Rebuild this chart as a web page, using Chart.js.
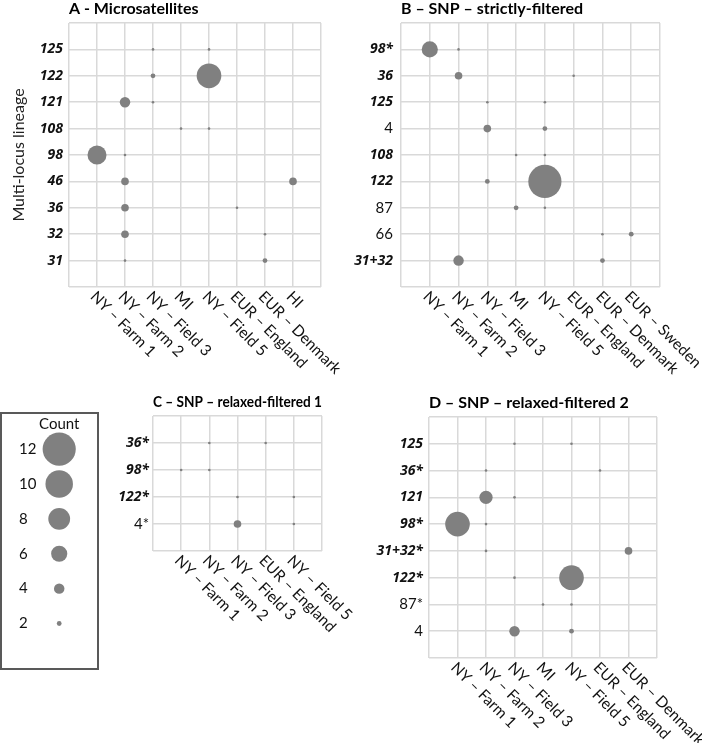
<!DOCTYPE html>
<html><head><meta charset="utf-8">
<script src="https://cdn.jsdelivr.net/npm/chart.js@4"></script>
<style>
html,body{margin:0;padding:0;background:#fff;}
body{width:702px;height:743px;position:relative;overflow:hidden;}
.p{position:absolute;}
.p canvas{display:block;}
#legendBox{position:absolute;left:0;top:412px;width:99px;height:258px;box-sizing:border-box;border:2px solid #595959;}
</style></head><body>
<div class="p" style="left:0;top:0;"><canvas id="cA" width="360" height="380" style="width:360px;height:380px"></canvas></div>
<div class="p" style="left:350px;top:0;"><canvas id="cB" width="352" height="380" style="width:352px;height:380px"></canvas></div>
<div class="p" style="left:100px;top:380px;"><canvas id="cC" width="270" height="363" style="width:270px;height:363px"></canvas></div>
<div class="p" style="left:350px;top:380px;"><canvas id="cD" width="352" height="363" style="width:352px;height:363px"></canvas></div>
<div id="legendBox"><canvas id="cL" width="95" height="254" style="width:95px;height:254px;display:block"></canvas></div>
<script>
// ---------- DATA ----------
// Panel A - Microsatellites
const A_sources = ['NY – Farm 1','NY – Farm 2','NY – Field 3','MI','NY – Field 5','EUR – England','EUR – Denmark','HI'];
const A_lineages = ['125','122','121','108','98','46','36','32','31'];
const A_highlight = ['125','122','121','108','98','46','36','32','31'];
const A_counts = [
  [0,0,1,0,1,0,0,0],
  [0,0,2,0,9,0,0,0],
  [0,4,1,0,0,0,0,0],
  [0,0,0,1,1,0,0,0],
  [7,1,0,0,0,0,0,0],
  [0,3,0,0,0,0,0,3],
  [0,3,0,0,0,1,0,0],
  [0,3,0,0,0,0,1,0],
  [0,1,0,0,0,0,2,0]
];
// Panel B - SNP strictly-filtered
const B_sources = ['NY – Farm 1','NY – Farm 2','NY – Field 3','MI','NY – Field 5','EUR – England','EUR – Denmark','EUR – Sweden'];
const B_lineages = ['98*','36','125','4','108','122','87','66','31+32'];
const B_highlight = ['98*','36','125','108','122','31+32'];
const B_counts = [
  [6,1,0,0,0,0,0,0],
  [0,3,0,0,0,1,0,0],
  [0,0,1,0,1,0,0,0],
  [0,0,3,0,2,0,0,0],
  [0,0,0,1,1,0,0,0],
  [0,0,2,0,12,0,0,0],
  [0,0,0,2,1,0,0,0],
  [0,0,0,0,0,0,1,2],
  [0,4,0,0,0,0,2,0]
];
// Panel C - SNP relaxed-filtered 1
const C_sources = ['NY – Farm 1','NY – Farm 2','NY – Field 3','EUR – England','NY – Field 5'];
const C_lineages = ['36*','98*','122*','4*'];
const C_highlight = ['36*','98*','122*'];
const C_counts = [
  [0,1,0,1,0],
  [1,1,0,0,0],
  [0,0,1,0,1],
  [0,0,3,0,1]
];
// Panel D - SNP relaxed-filtered 2
const D_sources = ['NY – Farm 1','NY – Farm 2','NY – Field 3','MI','NY – Field 5','EUR – England','EUR – Denmark'];
const D_lineages = ['125','36*','121','98*','31+32*','122*','87*','4'];
const D_highlight = ['125','36*','121','98*','31+32*','122*'];
const D_counts = [
  [0,0,1,0,1,0,0],
  [0,1,0,0,0,1,0],
  [0,5,1,0,0,0,0],
  [9,1,0,0,0,0,0],
  [0,1,0,0,0,0,3],
  [0,0,1,0,9,0,0],
  [0,0,0,1,1,0,0],
  [0,0,4,0,2,0,0]
];
// Legend
const legendCounts = [12,10,8,6,4,2];

// ---------- STYLE ----------
const FAMILY = 'Lato, "Open Sans", "DejaVu Sans", sans-serif';
const HL_FAMILY = '"Noto Sans", "Open Sans", sans-serif';
const TEXT = '#111111';
const GRID = '#d9d9d9';
const BUBBLE = '#808080';
const rad = c => Math.max(1.3, 1.42 * c - 0.45);

function rotLabels(labels, fontSize, dx, dy) {
  return {
    id: 'rotLabels',
    afterDraw(chart) {
      const xs = chart.scales.x, ctx = chart.ctx, base = chart.chartArea.bottom;
      ctx.save();
      ctx.font = fontSize + 'px ' + FAMILY;
      ctx.fillStyle = TEXT;
      ctx.textAlign = 'left';
      ctx.textBaseline = 'middle';
      labels.forEach((lab, i) => {
        const x = xs.getPixelForValue(i + 1);
        ctx.save();
        ctx.translate(x + dx, base + dy);
        ctx.rotate(Math.PI / 4);
        ctx.fillText(lab, 0, 0);
        ctx.restore();
      });
      ctx.restore();
    }
  };
}

function panel(id, sources, lineages, highlight, counts, titleText, lay) {
  const pts = [];
  counts.forEach((row, yi) => row.forEach((c, xi) => {
    if (c > 0) pts.push({x: xi + 1, y: yi + 1, r: rad(c)});
  }));
  const nX = sources.length, nY = lineages.length;
  return new Chart(document.getElementById(id), {
    type: 'bubble',
    data: {datasets: [{data: pts, backgroundColor: BUBBLE, borderWidth: 0, hoverBorderWidth: 0}]},
    options: {
      responsive: false, animation: false, events: [],
      layout: {padding: {left: 0, right: lay.padRight, top: 0, bottom: 0}},
      plugins: {
        legend: {display: false}, tooltip: {enabled: false},
        title: {display: true, text: titleText, align: 'start', fullSize: false, color: '#000',
          font: {family: FAMILY, size: 16, weight: 'bold', lineHeight: 1.1},
          padding: {top: lay.titleTop, bottom: lay.titleBottom}}
      },
      scales: {
        x: {type: 'linear', min: 0, max: nX + 1,
          afterFit: s => { s.height = lay.xHeight; },
          grid: {color: GRID, lineWidth: 1.5, drawTicks: false},
          border: {display: false},
          ticks: {display: false, stepSize: 1, autoSkip: false, maxTicksLimit: 30}},
        y: {type: 'linear', reverse: true, min: 0, max: nY + 1,
          afterFit: s => { s.width = lay.yWidth; },
          grid: {color: GRID, lineWidth: 1.5, drawTicks: false},
          border: {display: false},
          title: lay.yTitle ? {display: true, text: lay.yTitle, color: '#222',
            font: {family: FAMILY, size: 16}, padding: {top: 9, bottom: 0}} : {display: false},
          ticks: {stepSize: 1, autoSkip: false, maxTicksLimit: 30, padding: lay.tickPad, color: TEXT,
            callback: v => (v >= 1 && v <= nY) ? lineages[v - 1] : '',
            font: ctx => {
              const v = ctx.tick ? ctx.tick.value : 0;
              const lab = (v >= 1 && v <= nY) ? lineages[v - 1] : '';
              const hl = highlight.includes(lab);
              return hl ? {family: HL_FAMILY, size: 14, weight: 'bold', style: 'italic'}
                        : {family: FAMILY, size: 15, weight: 'normal', style: 'normal'};
            }}}
      }
    },
    plugins: [rotLabels(sources, 15.5, -4, 7)]
  });
}

panel('cA', A_sources, A_lineages, A_highlight, A_counts, 'A - Microsatellites',
  {padRight: 39, titleTop: 0, titleBottom: 5.4, xHeight: 93, yWidth: 69, tickPad: 6, yTitle: 'Multi-locus lineage'});
panel('cB', B_sources, B_lineages, B_highlight, B_counts, 'B – SNP – strictly-filtered',
  {padRight: 42, titleTop: 0, titleBottom: 5.4, xHeight: 93, yWidth: 51, tickPad: 8});
panel('cC', C_sources, C_lineages, C_highlight, C_counts, 'C – SNP – relaxed-filtered 1',
  {padRight: 48, titleTop: 13.2, titleBottom: 5.2, xHeight: 192, yWidth: 53, tickPad: 4});
panel('cD', D_sources, D_lineages, D_highlight, D_counts, 'D – SNP – relaxed-filtered 2',
  {padRight: 45, titleTop: 14.2, titleBottom: 5.2, xHeight: 85, yWidth: 79, tickPad: 6});

// Legend chart
new Chart(document.getElementById('cL'), {
  type: 'bubble',
  data: {datasets: [{data: legendCounts.map((c, i) => ({x: 1, y: i + 1, r: rad(c)})),
    backgroundColor: BUBBLE, borderWidth: 0, clip: false}]},
  options: {
    responsive: false, animation: false, events: [],
    layout: {padding: {left: 17, right: 15, top: 0, bottom: 0}},
    plugins: {
      legend: {display: false}, tooltip: {enabled: false},
      title: {display: true, text: 'Count', align: 'center', fullSize: false, color: TEXT,
        font: {family: FAMILY, size: 15, weight: 'normal', lineHeight: 1.2}, padding: {top: 1, bottom: 6}}
    },
    scales: {
      x: {type: 'linear', min: 0, max: 2, display: false},
      y: {type: 'linear', reverse: true, min: 0.71, max: 6.8,
        afterFit: s => { s.width = 19; },
        grid: {display: false}, border: {display: false},
        ticks: {stepSize: 1, autoSkip: false, includeBounds: false, crossAlign: 'far', padding: 0, color: TEXT,
          font: {family: FAMILY, size: 15},
          callback: v => (Number.isInteger(v) && v >= 1 && v <= legendCounts.length) ? String(legendCounts[v - 1]) : ''}}
    }
  }
});
</script>
</body></html>
